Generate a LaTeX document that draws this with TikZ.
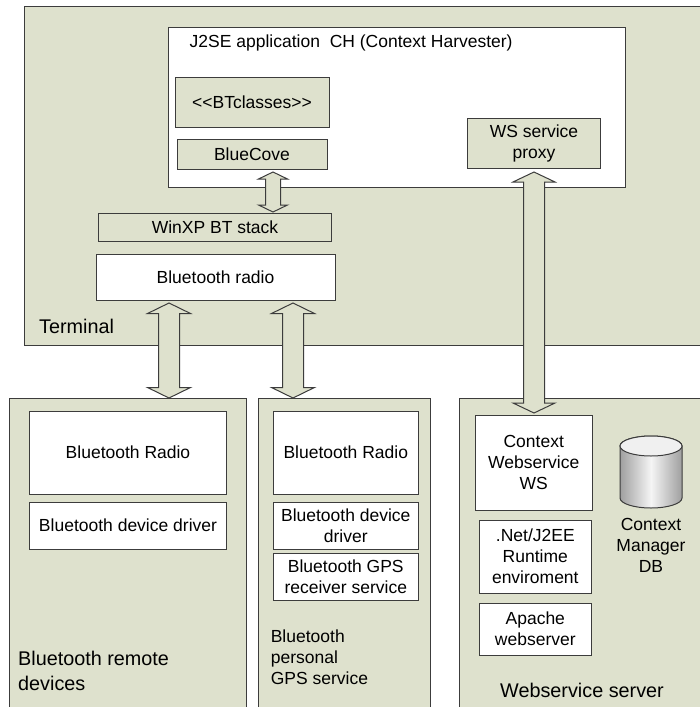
\documentclass[tikz,border=0pt]{standalone}
\usepackage{fontspec}
\setmainfont{Liberation Sans}
\usetikzlibrary{calc}
\definecolor{bg}{RGB}{222,225,205}
\definecolor{ln}{RGB}{60,60,60}
\newcommand{\fsn}{\fontsize{17.5}{21}\selectfont}
\newcommand{\fsl}{\fontsize{19.8}{25}\selectfont}
\tikzset{
 container/.style={draw=ln, fill=bg, line width=1pt, inner sep=0pt},
 whitecont/.style={draw=ln, fill=white, line width=1pt, inner sep=0pt},
 gbox/.style={draw=ln, fill=bg, line width=1pt, inner sep=0pt, align=center, font=\fsn},
 wbox/.style={draw=ln, fill=white, line width=1pt, inner sep=0pt, align=center, font=\fsn},
 lbl/.style={inner sep=0pt, align=left, anchor=west, font=\fsl},
 slbl/.style={inner sep=0pt, align=left, anchor=west, font=\fsn},
 barrow/.style={draw=ln, fill=bg, line width=1pt, line join=miter},
}
% tip A (top), tip B (bottom), shaft half width, head half width, head length
\newcommand{\blockarrow}[5]{%
 \draw[barrow] let \p1=(#1), \p2=(#2) in
  (\x1,\y1) -- (\x1+#4pt,\y1-#5pt) -- (\x1+#3pt,\y1-#5pt) -- (\x2+#3pt,\y2+#5pt)
  -- (\x2+#4pt,\y2+#5pt) -- (\x2,\y2) -- (\x2-#4pt,\y2+#5pt) -- (\x2-#3pt,\y2+#5pt)
  -- (\x1-#3pt,\y1-#5pt) -- (\x1-#4pt,\y1-#5pt) -- cycle;}
\begin{document}
\begin{tikzpicture}[x=1pt,y=-1pt]
\useasboundingbox (0,0) rectangle (699,707);
\fill[white] (0,0) rectangle (699,707);
% Terminal
\node[container, minimum width=681pt, minimum height=339pt] (term) at (364.5,175.5) {};
\node[lbl] (termlbl) at (39,326) {Terminal};
% J2SE application
\node[whitecont, minimum width=457.5pt, minimum height=160pt] (app) at (396.75,107) {};
\node[slbl] (applbl) at (189.5,43) {J2SE application~ CH (Context Harvester)};
\node[gbox, minimum width=154pt, minimum height=50pt] (btc) at (252,102) {<{}<BTclasses>{}>};
\node[gbox, minimum width=150pt, minimum height=30pt] (bluecove) at (252,154) {BlueCove};
\node[gbox, minimum width=133.5pt, minimum height=50pt] (proxy) at (534,143) {WS service\\proxy};
\node[gbox, minimum width=232.5pt, minimum height=28pt] (winxp) at (215,227) {WinXP BT stack};
\node[wbox, minimum width=239pt, minimum height=46pt] (radio) at (215.5,277) {Bluetooth radio};
% Bottom containers
\node[container, minimum width=237pt, minimum height=322pt] (remote) at (127.5,559) {};
\node[container, minimum width=172.1pt, minimum height=322pt] (gps) at (344.65,559) {};
\node[container, minimum width=252.4pt, minimum height=322pt] (server) at (585.8,559) {};
% Remote devices
\node[wbox, minimum width=197.5pt, minimum height=83pt] (rradio) at (128,452.5) {Bluetooth Radio};
\node[wbox, minimum width=197.5pt, minimum height=47pt] (rdrv) at (128,525.5) {Bluetooth device driver};
\node[lbl] (remotelbl) at (18,670.5) {Bluetooth remote\\devices};
% GPS service
\node[wbox, minimum width=145.6pt, minimum height=83pt] (gradio) at (345.8,452.5) {Bluetooth Radio};
\node[wbox, minimum width=145.6pt, minimum height=47pt] (gdrv) at (345.8,525.5) {Bluetooth device\\driver};
\node[wbox, minimum width=145.6pt, minimum height=47pt] (grecv) at (345.8,576.5) {Bluetooth GPS\\receiver service};
\node[slbl] (gpslbl) at (270.6,657) {Bluetooth\\personal\\GPS service};
% Webservice server
\node[wbox, minimum width=117.5pt, minimum height=95pt] (cws) at (533.75,462.5) {Context\\Webservice\\WS};
\node[wbox, minimum width=112.6pt, minimum height=73pt] (net) at (535.3,556.5) {.Net/J2EE\\Runtime\\enviroment};
\node[wbox, minimum width=112.6pt, minimum height=52pt] (apache) at (535.3,629) {Apache\\webserver};
% Cylinder DB
\path[left color=gray!75, right color=gray!75, middle color=gray!8, draw=ln, line width=1pt]
  (620,446) -- (620,498) arc[start angle=180,end angle=360,x radius=31pt,y radius=10pt]
  -- (682,446) arc[start angle=0,end angle=180,x radius=31pt,y radius=10pt] -- cycle;
\draw[fill=gray!12, draw=ln, line width=1pt] (651,446) ellipse[x radius=31pt, y radius=10pt];
\node[inner sep=0pt, align=center, font=\fsn] (dblbl) at (651,545) {Context\\Manager\\DB};
\node[inner sep=0pt, align=center, font=\fsl] (serverlbl) at (582,690) {Webservice server};
% Arrows
\coordinate (a1t) at (273,172); \coordinate (a1b) at (273,212);
\coordinate (a2t) at (169,303); \coordinate (a2b) at (169,398);
\coordinate (a3t) at (293,303); \coordinate (a3b) at (293,398);
\coordinate (a4t) at (534,172); \coordinate (a4b) at (534,413);
\blockarrow{a1t}{a1b}{7.5}{14.5}{7}
\blockarrow{a2t}{a2b}{10.5}{21.5}{10.5}
\blockarrow{a3t}{a3b}{10.5}{21.5}{10.5}
\blockarrow{a4t}{a4b}{10.5}{21}{10}
\end{tikzpicture}
\end{document}
